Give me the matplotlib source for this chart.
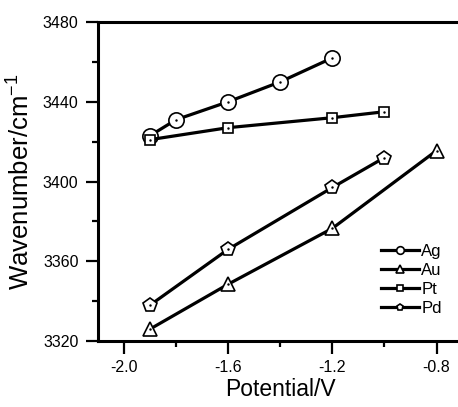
import matplotlib
matplotlib.use("Agg")
import matplotlib.pyplot as plt
from matplotlib.ticker import MultipleLocator, FormatStrFormatter

plt.rcParams['font.family'] = ['Liberation Sans', 'DejaVu Sans']
plt.rcParams['axes.unicode_minus'] = False
plt.rcParams['mathtext.default'] = 'regular'

# values
ag_x = [-1.9, -1.8, -1.6, -1.4, -1.2]
ag_y = [3423, 3431, 3440, 3450, 3462]
au_x = [-1.9, -1.6, -1.2, -0.8]
au_y = [3326, 3348.5, 3376.5, 3415.5]
pt_x = [-1.9, -1.6, -1.2, -1.0]
pt_y = [3421, 3427, 3432, 3435]
pd_x = [-1.9, -1.6, -1.2, -1.0]
pd_y = [3338, 3366, 3397, 3412]

fig = plt.figure(figsize=(4.58, 4.07), dpi=100)
ax = fig.add_axes([98/458, 66/407, 1.01 - 98/458, 319/407])

series = [
    (ag_x, ag_y, 'o', 11, "Ag"),
    (au_x, au_y, '^', 10.5, "Au"),
    (pt_x, pt_y, 's', 7.5, "Pt"),
    (pd_x, pd_y, 'p', 10, "Pd"),
]
for xs, ys, m, ms, lab in series:
    ax.plot(xs, ys, color='k', lw=2.3, marker=m, ms=ms, mfc='white',
            mec='k', mew=1.2, label=lab)
    # little dot in the middle of each marker
    ax.plot(xs, ys, ls='none', marker='.', ms=1.5, color='k')

ax.set_xlim(-2.1, -0.7)
ax.set_ylim(3320, 3480)
ax.xaxis.set_major_locator(MultipleLocator(0.4))
ax.xaxis.set_minor_locator(MultipleLocator(0.2))
ax.xaxis.set_major_formatter(FormatStrFormatter('%.1f'))
ax.yaxis.set_major_locator(MultipleLocator(40))
ax.yaxis.set_minor_locator(MultipleLocator(20))

for s in ax.spines.values():
    s.set_linewidth(2.2)
ax.tick_params(which='major', direction='out', length=9, width=1.6,
               labelsize=11.5, pad=5)
ax.tick_params(which='minor', direction='out', length=4.5, width=1.6)
ax.tick_params(axis='x', which='major', pad=5)

ax.set_xlabel("Potential/V", fontsize=16.5, labelpad=2)
ax.set_ylabel("Wavenumber/cm$^{-1}$", fontsize=18.5, labelpad=6)

ax.legend(loc='upper left', bbox_to_anchor=(0.775, 0.305),
          frameon=False, fontsize=12, markerscale=0.5,
          handlelength=2.3, handletextpad=0.15, labelspacing=0.25,
          borderpad=0, borderaxespad=0)

fig.savefig("out.png", dpi=100)
